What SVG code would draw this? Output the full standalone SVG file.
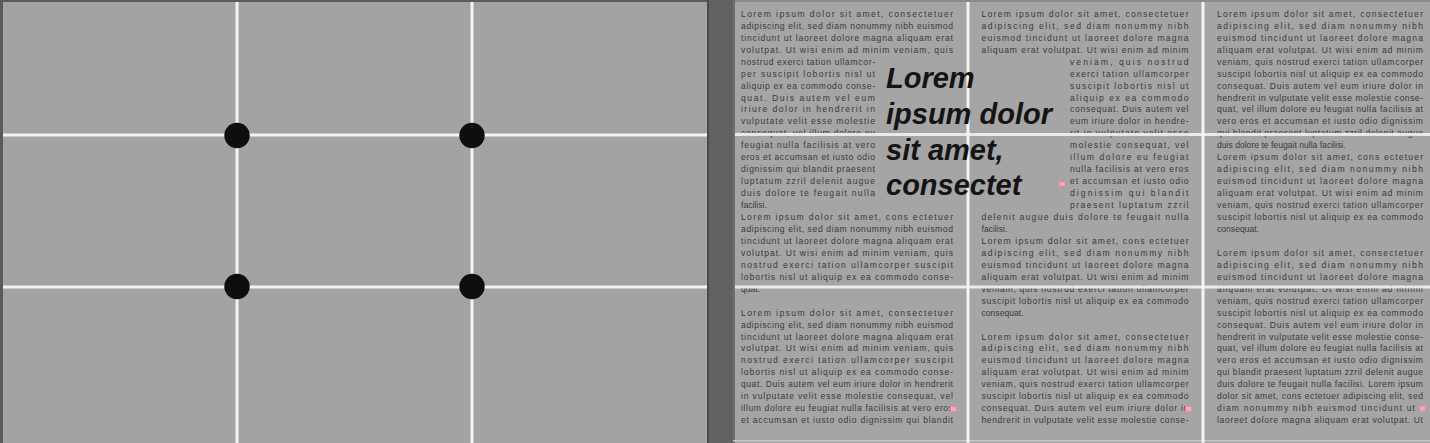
<svg xmlns="http://www.w3.org/2000/svg" width="1430" height="443" viewBox="0 0 1430 443">
<style>
.t{font-family:"Liberation Sans",Arial,sans-serif;font-size:8.6px;fill:#3a3a3a}
.big{font-family:"Liberation Sans",Arial,sans-serif;font-size:29px;font-weight:bold;font-style:italic;fill:#141414}
.g{stroke:#f4f4f4;stroke-width:3;fill:none}
.gh{stroke:#f4f4f4;stroke-width:3;fill:none;opacity:0.88}
.dot{fill:#0e0e0e}
.mk{fill:#f2aab6;stroke:#e98a9c;stroke-width:1}
</style>
<!-- left panel -->
<g id="left-panel">
<rect x="0" y="0" width="710" height="443" fill="#a3a3a1"/>
<rect x="0" y="0" width="710" height="2" fill="#5a5a5a"/>
<rect x="0" y="0" width="3" height="443" fill="#5a5a5a"/>
<rect x="707" y="0" width="2" height="443" fill="#4a4a4a"/>
<line class="g" x1="237" y1="2" x2="237" y2="443"/>
<line class="g" x1="472" y1="2" x2="472" y2="443"/>
<line class="g" x1="3" y1="135" x2="707" y2="135"/>
<line class="g" x1="3" y1="287" x2="707" y2="287"/>
<circle class="dot" cx="237" cy="135.5" r="12.7"/>
<circle class="dot" cx="472" cy="135.5" r="12.7"/>
<circle class="dot" cx="237" cy="286.5" r="12.7"/>
<circle class="dot" cx="472" cy="286.5" r="12.7"/>
</g>
<!-- gutter -->
<rect x="709" y="0" width="24" height="443" fill="#626262"/>
<!-- right panel -->
<g id="right-panel">
<rect x="733" y="0" width="697" height="443" fill="#a5a5a5"/>
<rect x="733" y="0" width="697" height="2" fill="#8a8a8a"/>
<rect x="733" y="0" width="2" height="443" fill="#707070"/>
<rect x="733" y="440" width="697" height="1.5" fill="#c8c8c8"/>
<line class="g" x1="968" y1="2" x2="968" y2="443"/>
<line class="g" x1="1203" y1="2" x2="1203" y2="443"/>

<g id="col1">
<text class="t" x="741" y="16.8" textLength="212" lengthAdjust="spacing">Lorem ipsum dolor sit amet, consectetuer</text>
<text class="t" x="741" y="28.8" textLength="212" lengthAdjust="spacing">adipiscing elit, sed diam nonummy nibh euismod</text>
<text class="t" x="741" y="40.7" textLength="212" lengthAdjust="spacing">tincidunt ut laoreet dolore magna aliquam erat</text>
<text class="t" x="741" y="52.7" textLength="212" lengthAdjust="spacing">volutpat. Ut wisi enim ad minim veniam, quis</text>
<text class="t" x="741" y="64.6" textLength="134" lengthAdjust="spacing">nostrud exerci tation ullamcor-</text>
<text class="t" x="741" y="76.6" textLength="134" lengthAdjust="spacing">per suscipit lobortis nisl ut</text>
<text class="t" x="741" y="88.5" textLength="134" lengthAdjust="spacing">aliquip ex ea commodo conse-</text>
<text class="t" x="741" y="100.5" textLength="134" lengthAdjust="spacing">quat. Duis autem vel eum</text>
<text class="t" x="741" y="112.4" textLength="134" lengthAdjust="spacing">iriure dolor in hendrerit in</text>
<text class="t" x="741" y="124.4" textLength="134" lengthAdjust="spacing">vulputate velit esse molestie</text>
<text class="t" x="741" y="136.3" textLength="134" lengthAdjust="spacing">consequat, vel illum dolore eu</text>
<text class="t" x="741" y="148.3" textLength="134" lengthAdjust="spacing">feugiat nulla facilisis at vero</text>
<text class="t" x="741" y="160.2" textLength="134" lengthAdjust="spacing">eros et accumsan et iusto odio</text>
<text class="t" x="741" y="172.2" textLength="134" lengthAdjust="spacing">dignissim qui blandit praesent</text>
<text class="t" x="741" y="184.1" textLength="134" lengthAdjust="spacing">luptatum zzril delenit augue</text>
<text class="t" x="741" y="196.1" textLength="134" lengthAdjust="spacing">duis dolore te feugait nulla</text>
<text class="t" x="741" y="208.0">facilisi.</text>
<text class="t" x="741" y="220.0" textLength="212" lengthAdjust="spacing">Lorem ipsum dolor sit amet, cons ectetuer</text>
<text class="t" x="741" y="231.9" textLength="212" lengthAdjust="spacing">adipiscing elit, sed diam nonummy nibh euismod</text>
<text class="t" x="741" y="243.9" textLength="212" lengthAdjust="spacing">tincidunt ut laoreet dolore magna aliquam erat</text>
<text class="t" x="741" y="255.8" textLength="212" lengthAdjust="spacing">volutpat. Ut wisi enim ad minim veniam, quis</text>
<text class="t" x="741" y="267.8" textLength="212" lengthAdjust="spacing">nostrud exerci tation ullamcorper suscipit</text>
<text class="t" x="741" y="279.7" textLength="212" lengthAdjust="spacing">lobortis nisl ut aliquip ex ea commodo conse-</text>
<text class="t" x="741" y="291.7">quat.</text>
<text class="t" x="741" y="315.6" textLength="212" lengthAdjust="spacing">Lorem ipsum dolor sit amet, consectetuer</text>
<text class="t" x="741" y="327.5" textLength="212" lengthAdjust="spacing">adipiscing elit, sed diam nonummy nibh euismod</text>
<text class="t" x="741" y="339.5" textLength="212" lengthAdjust="spacing">tincidunt ut laoreet dolore magna aliquam erat</text>
<text class="t" x="741" y="351.4" textLength="212" lengthAdjust="spacing">volutpat. Ut wisi enim ad minim veniam, quis</text>
<text class="t" x="741" y="363.4" textLength="212" lengthAdjust="spacing">nostrud exerci tation ullamcorper suscipit</text>
<text class="t" x="741" y="375.3" textLength="212" lengthAdjust="spacing">lobortis nisl ut aliquip ex ea commodo conse-</text>
<text class="t" x="741" y="387.3" textLength="212" lengthAdjust="spacing">quat. Duis autem vel eum iriure dolor in hendrerit</text>
<text class="t" x="741" y="399.2" textLength="212" lengthAdjust="spacing">in vulputate velit esse molestie consequat, vel</text>
<text class="t" x="741" y="411.2" textLength="212" lengthAdjust="spacing">illum dolore eu feugiat nulla facilisis at vero eros</text>
<text class="t" x="741" y="423.1" textLength="212" lengthAdjust="spacing">et accumsan et iusto odio dignissim qui blandit</text>
</g>

<g id="col2">
<text class="t" x="981.5" y="16.8" textLength="207" lengthAdjust="spacing">Lorem ipsum dolor sit amet, consectetuer</text>
<text class="t" x="981.5" y="28.8" textLength="207" lengthAdjust="spacing">adipiscing elit, sed diam nonummy nibh</text>
<text class="t" x="981.5" y="40.7" textLength="207" lengthAdjust="spacing">euismod tincidunt ut laoreet dolore magna</text>
<text class="t" x="981.5" y="52.7" textLength="207" lengthAdjust="spacing">aliquam erat volutpat. Ut wisi enim ad minim</text>
<text class="t" x="1070" y="64.6" textLength="118.5" lengthAdjust="spacing">veniam, quis nostrud</text>
<text class="t" x="1070" y="76.6" textLength="118.5" lengthAdjust="spacing">exerci tation ullamcorper</text>
<text class="t" x="1070" y="88.5" textLength="118.5" lengthAdjust="spacing">suscipit lobortis nisl ut</text>
<text class="t" x="1070" y="100.5" textLength="118.5" lengthAdjust="spacing">aliquip ex ea commodo</text>
<text class="t" x="1070" y="112.4" textLength="118.5" lengthAdjust="spacing">consequat. Duis autem vel</text>
<text class="t" x="1070" y="124.4" textLength="118.5" lengthAdjust="spacing">eum iriure dolor in hendre-</text>
<text class="t" x="1070" y="136.3" textLength="118.5" lengthAdjust="spacing">rit in vulputate velit esse</text>
<text class="t" x="1070" y="148.3" textLength="118.5" lengthAdjust="spacing">molestie consequat, vel</text>
<text class="t" x="1070" y="160.2" textLength="118.5" lengthAdjust="spacing">illum dolore eu feugiat</text>
<text class="t" x="1070" y="172.2" textLength="118.5" lengthAdjust="spacing">nulla facilisis at vero eros</text>
<text class="t" x="1070" y="184.1" textLength="118.5" lengthAdjust="spacing">et accumsan et iusto odio</text>
<text class="t" x="1070" y="196.1" textLength="118.5" lengthAdjust="spacing">dignissim qui blandit</text>
<text class="t" x="1070" y="208.0" textLength="118.5" lengthAdjust="spacing">praesent luptatum zzril</text>
<text class="t" x="981.5" y="220.0" textLength="207" lengthAdjust="spacing">delenit augue duis dolore te feugait nulla</text>
<text class="t" x="981.5" y="231.9">facilisi.</text>
<text class="t" x="981.5" y="243.9" textLength="207" lengthAdjust="spacing">Lorem ipsum dolor sit amet, cons ectetuer</text>
<text class="t" x="981.5" y="255.8" textLength="207" lengthAdjust="spacing">adipiscing elit, sed diam nonummy nibh</text>
<text class="t" x="981.5" y="267.8" textLength="207" lengthAdjust="spacing">euismod tincidunt ut laoreet dolore magna</text>
<text class="t" x="981.5" y="279.7" textLength="207" lengthAdjust="spacing">aliquam erat volutpat. Ut wisi enim ad minim</text>
<text class="t" x="981.5" y="291.7" textLength="207" lengthAdjust="spacing">veniam, quis nostrud exerci tation ullamcorper</text>
<text class="t" x="981.5" y="303.6" textLength="207" lengthAdjust="spacing">suscipit lobortis nisl ut aliquip ex ea commodo</text>
<text class="t" x="981.5" y="315.6">consequat.</text>
<text class="t" x="981.5" y="339.5" textLength="207" lengthAdjust="spacing">Lorem ipsum dolor sit amet, consectetuer</text>
<text class="t" x="981.5" y="351.4" textLength="207" lengthAdjust="spacing">adipiscing elit, sed diam nonummy nibh</text>
<text class="t" x="981.5" y="363.4" textLength="207" lengthAdjust="spacing">euismod tincidunt ut laoreet dolore magna</text>
<text class="t" x="981.5" y="375.3" textLength="207" lengthAdjust="spacing">aliquam erat volutpat. Ut wisi enim ad minim</text>
<text class="t" x="981.5" y="387.3" textLength="207" lengthAdjust="spacing">veniam, quis nostrud exerci tation ullamcorper</text>
<text class="t" x="981.5" y="399.2" textLength="207" lengthAdjust="spacing">suscipit lobortis nisl ut aliquip ex ea commodo</text>
<text class="t" x="981.5" y="411.2" textLength="207" lengthAdjust="spacing">consequat. Duis autem vel eum iriure dolor in</text>
<text class="t" x="981.5" y="423.1" textLength="207" lengthAdjust="spacing">hendrerit in vulputate velit esse molestie conse-</text>
</g>

<g id="col3">
<text class="t" x="1217" y="16.8" textLength="206" lengthAdjust="spacing">Lorem ipsum dolor sit amet, consectetuer</text>
<text class="t" x="1217" y="28.8" textLength="206" lengthAdjust="spacing">adipiscing elit, sed diam nonummy nibh</text>
<text class="t" x="1217" y="40.7" textLength="206" lengthAdjust="spacing">euismod tincidunt ut laoreet dolore magna</text>
<text class="t" x="1217" y="52.7" textLength="206" lengthAdjust="spacing">aliquam erat volutpat. Ut wisi enim ad minim</text>
<text class="t" x="1217" y="64.6" textLength="206" lengthAdjust="spacing">veniam, quis nostrud exerci tation ullamcorper</text>
<text class="t" x="1217" y="76.6" textLength="206" lengthAdjust="spacing">suscipit lobortis nisl ut aliquip ex ea commodo</text>
<text class="t" x="1217" y="88.5" textLength="206" lengthAdjust="spacing">consequat. Duis autem vel eum iriure dolor in</text>
<text class="t" x="1217" y="100.5" textLength="206" lengthAdjust="spacing">hendrerit in vulputate velit esse molestie conse-</text>
<text class="t" x="1217" y="112.4" textLength="206" lengthAdjust="spacing">quat, vel illum dolore eu feugiat nulla facilisis at</text>
<text class="t" x="1217" y="124.4" textLength="206" lengthAdjust="spacing">vero eros et accumsan et iusto odio dignissim</text>
<text class="t" x="1217" y="136.3" textLength="206" lengthAdjust="spacing">qui blandit praesent luptatum zzril delenit augue</text>
<text class="t" x="1217" y="148.3">duis dolore te feugait nulla facilisi.</text>
<text class="t" x="1217" y="160.2" textLength="206" lengthAdjust="spacing">Lorem ipsum dolor sit amet, cons ectetuer</text>
<text class="t" x="1217" y="172.2" textLength="206" lengthAdjust="spacing">adipiscing elit, sed diam nonummy nibh</text>
<text class="t" x="1217" y="184.1" textLength="206" lengthAdjust="spacing">euismod tincidunt ut laoreet dolore magna</text>
<text class="t" x="1217" y="196.1" textLength="206" lengthAdjust="spacing">aliquam erat volutpat. Ut wisi enim ad minim</text>
<text class="t" x="1217" y="208.0" textLength="206" lengthAdjust="spacing">veniam, quis nostrud exerci tation ullamcorper</text>
<text class="t" x="1217" y="220.0" textLength="206" lengthAdjust="spacing">suscipit lobortis nisl ut aliquip ex ea commodo</text>
<text class="t" x="1217" y="231.9">consequat.</text>
<text class="t" x="1217" y="255.8" textLength="206" lengthAdjust="spacing">Lorem ipsum dolor sit amet, consectetuer</text>
<text class="t" x="1217" y="267.8" textLength="206" lengthAdjust="spacing">adipiscing elit, sed diam nonummy nibh</text>
<text class="t" x="1217" y="279.7" textLength="206" lengthAdjust="spacing">euismod tincidunt ut laoreet dolore magna</text>
<text class="t" x="1217" y="291.7" textLength="206" lengthAdjust="spacing">aliquam erat volutpat. Ut wisi enim ad minim</text>
<text class="t" x="1217" y="303.6" textLength="206" lengthAdjust="spacing">veniam, quis nostrud exerci tation ullamcorper</text>
<text class="t" x="1217" y="315.6" textLength="206" lengthAdjust="spacing">suscipit lobortis nisl ut aliquip ex ea commodo</text>
<text class="t" x="1217" y="327.5" textLength="206" lengthAdjust="spacing">consequat. Duis autem vel eum iriure dolor in</text>
<text class="t" x="1217" y="339.5" textLength="206" lengthAdjust="spacing">hendrerit in vulputate velit esse molestie conse-</text>
<text class="t" x="1217" y="351.4" textLength="206" lengthAdjust="spacing">quat, vel illum dolore eu feugiat nulla facilisis at</text>
<text class="t" x="1217" y="363.4" textLength="206" lengthAdjust="spacing">vero eros et accumsan et iusto odio dignissim</text>
<text class="t" x="1217" y="375.3" textLength="206" lengthAdjust="spacing">qui blandit praesent luptatum zzril delenit augue</text>
<text class="t" x="1217" y="387.3" textLength="206" lengthAdjust="spacing">duis dolore te feugait nulla facilisi. Lorem ipsum</text>
<text class="t" x="1217" y="399.2" textLength="206" lengthAdjust="spacing">dolor sit amet, cons ectetuer adipiscing elit, sed</text>
<text class="t" x="1217" y="411.2" textLength="198" lengthAdjust="spacing">diam nonummy nibh euismod tincidunt ut</text>
<text class="t" x="1217" y="423.1" textLength="206" lengthAdjust="spacing">laoreet dolore magna aliquam erat volutpat. Ut</text>
</g>

<g id="headline">
<text class="big" x="886" y="88">Lorem</text>
<text class="big" x="886" y="124">ipsum dolor</text>
<text class="big" x="886" y="159.5">sit amet,</text>
<text class="big" x="886" y="195">consectet</text>
</g>

<line class="gh" x1="735" y1="134.5" x2="1430" y2="134.5"/>
<line class="gh" x1="735" y1="287" x2="1430" y2="287"/>

<g id="overflow-markers">
<rect class="mk" x="1059" y="181.5" width="6" height="5"/>
<rect class="mk" x="950.5" y="406.5" width="6" height="5"/>
<rect class="mk" x="1185.5" y="406.5" width="6" height="5"/>
<rect class="mk" x="1419.5" y="406" width="6" height="5"/>
</g>
</g>
</svg>
